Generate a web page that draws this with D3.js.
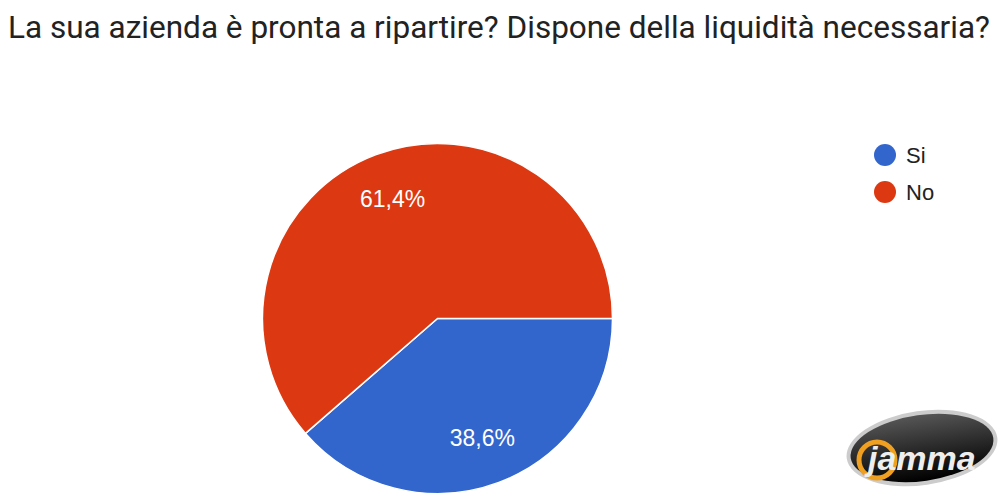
<!DOCTYPE html>
<html><head><meta charset="utf-8">
<script src="https://cdn.jsdelivr.net/npm/d3@7/dist/d3.min.js"></script>
<style>body{margin:0;background:#fff}svg{display:block}</style>
</head><body>
<svg id="c" width="1000" height="500"></svg>
<script>
const title = "La sua azienda è pronta a ripartire? Dispone della liquidità necessaria?";
const categories = ["Si", "No"];
const values = [38.6, 61.4];
const labels = ["38,6%", "61,4%"];
const colors = ["#3366cc", "#dc3912"];

const svg = d3.select("#c");
svg.append("text").attr("x", 8).attr("y", 38)
  .attr("font-family", "Roboto, Arial, sans-serif").attr("font-size", 31)
  .attr("textLength", 982).attr("lengthAdjust", "spacingAndGlyphs")
  .attr("fill", "#222").text(title);

const cx = 437.5, cy = 318.5, r = 175;
const pie = d3.pie().sort(null).value(d => d.v)
  .startAngle(Math.PI / 2).endAngle(Math.PI / 2 + 2 * Math.PI);
const data = categories.map((c, i) => ({c, v: values[i], l: labels[i], col: colors[i]}));
const arcs = pie(data);
const arc = d3.arc().innerRadius(0).outerRadius(r);
const labArc = d3.arc().innerRadius(128).outerRadius(128);
const g = svg.append("g").attr("transform", `translate(${cx},${cy})`);
g.selectAll("path").data(arcs).join("path")
  .attr("d", arc).attr("fill", d => d.data.col)
  .attr("stroke", "#fff").attr("stroke-width", 1.5);
g.selectAll("text").data(arcs).join("text")
  .attr("transform", d => `translate(${labArc.centroid(d)})`)
  .attr("text-anchor", "middle").attr("dy", "0.35em")
  .attr("font-family", "Arial, 'Liberation Sans', sans-serif").attr("font-size", 23)
  .attr("fill", "#fff").text(d => d.data.l);

const leg = svg.append("g");
data.forEach((d, i) => {
  const y = 155 + i * 37;
  leg.append("circle").attr("cx", 885).attr("cy", y).attr("r", 11).attr("fill", d.col);
  leg.append("text").attr("x", 906).attr("y", y).attr("dy", "0.36em")
    .attr("font-family", "Arial, 'Liberation Sans', sans-serif").attr("font-size", 22)
    .attr("fill", "#222").text(d.c);
});

// logo approximation
const logo = svg.append("g").attr("transform", "translate(922,448) rotate(-8)");
const grad = svg.append("defs").append("linearGradient").attr("id", "lg").attr("x1", 0).attr("y1", 0).attr("x2", 0).attr("y2", 1);
grad.append("stop").attr("offset", 0).attr("stop-color", "#555");
grad.append("stop").attr("offset", 1).attr("stop-color", "#000");
logo.append("ellipse").attr("rx", 76).attr("ry", 37).attr("fill", "#ccc");
logo.append("ellipse").attr("rx", 72).attr("ry", 33).attr("fill", "url(#lg)");
svg.append("circle").attr("cx", 877).attr("cy", 460).attr("r", 18).attr("fill", "none")
  .attr("stroke", "#f0a020").attr("stroke-width", 5);
svg.append("text").attr("x", 868).attr("y", 470).attr("font-family", "Arial, sans-serif")
  .attr("font-weight", "bold").attr("font-style", "italic").attr("font-size", 34)
  .attr("fill", "#eee").text("jamma");
</script>
</body></html>
